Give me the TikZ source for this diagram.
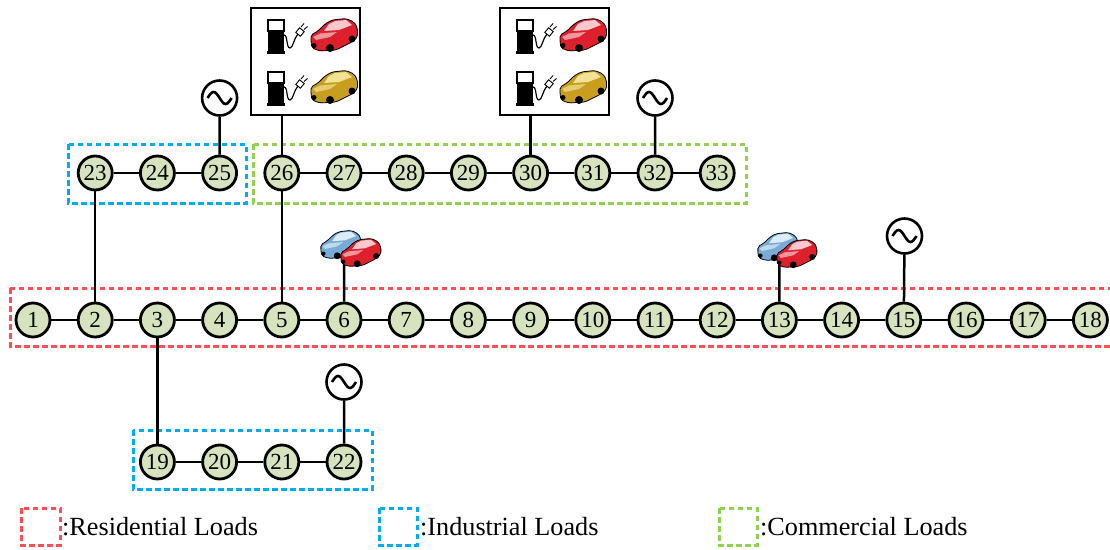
\documentclass[tikz,border=0pt]{standalone}
\usepackage{fontspec}
\setmainfont{Liberation Serif}
\definecolor{busfill}{RGB}{215,227,190}
\definecolor{zonered}{RGB}{250,80,85}
\definecolor{zoneblue}{RGB}{0,174,239}
\definecolor{zonegreen}{RGB}{146,208,80}
\definecolor{carred}{RGB}{222,32,44}
\definecolor{carredlt}{RGB}{250,200,205}
\definecolor{cargold}{RGB}{200,158,30}
\definecolor{cargoldlt}{RGB}{242,226,150}
\definecolor{carblue}{RGB}{120,172,215}
\definecolor{carbluelt}{RGB}{218,236,250}
\tikzset{
  pics/car/.style 2 args={code={
    \draw[line width=0.8pt,fill=#1,rounded corners=2pt]
      (1,24) -- (1,17) -- (8,13) -- (15,6) -- (22,2) -- (36,0.5) -- (44,4)
      -- (47.5,10) -- (47.5,19) -- (42,24) -- (26,32) -- (10,33) -- (2,30) -- cycle;
    \fill[#2] (14,13) -- (19,6) -- (25,3) -- (36,2) -- (42,7) -- (29,12) -- cycle;
    \fill[#2!70!#1] (3,19) -- (10,15.5) -- (27,14) -- (20,19) -- (6,22) -- cycle;
    \fill[black] (20,30) circle[radius=4];
    \fill[black] (42,21) circle[radius=3.5];
    \fill[black] (4,27.5) circle[radius=2.5];
  }},
  pics/pump/.style={code={
    \fill[black] (0,11) rectangle (16,32);
    \draw[line width=1.4pt,fill=white] (0,0) rectangle (16,11);
    \fill[black] (-1,31) rectangle (17,34);
    \draw[line width=1.2pt] (16,15) .. controls (20,15) and (18,28) .. (22,28)
      .. controls (25,28) and (26,18) .. (30,14);
    \draw[line width=0.9pt,fill=white,rotate around={-40:(32,12)}] (29,9) rectangle (35,15);
    \draw[line width=0.9pt] (33,7) -- (36,3.5) (36,9.5) -- (39.5,6.5);
  }}
}
\begin{document}
\begin{tikzpicture}[x=1pt,y=-1pt,
  bus/.style={circle,draw,line width=2.8pt,fill=busfill,minimum size=34pt,inner sep=0pt,
    font=\fontsize{23}{23}\selectfont},
  gen/.style={circle,draw,line width=2.6pt,fill=white,minimum size=35pt,inner sep=0pt},
  wire/.style={line width=2.5pt},
  zone/.style={line width=3pt,dash pattern=on 5.5pt off 3.5pt},
  station/.style={draw,line width=1.8pt,minimum width=109pt,minimum height=107pt,inner sep=0pt},
  legend/.style={anchor=base west,inner sep=0pt,font=\fontsize{26.2}{26.2}\selectfont}
]
\useasboundingbox (0,0) rectangle (1110,549);

% load zones
\draw[zone,zonered]   (10,288) rectangle (1120,346);
\draw[zone,zoneblue]  (68,144) rectangle (246,203);
\draw[zone,zonegreen] (253,144) rectangle (746,203);
\draw[zone,zoneblue]  (133,430) rectangle (372,489);

% buses
\foreach \i in {1,...,18} {
  \node[bus] (n\i) at ({33+(\i-1)*62.2},320) {\i};
}
\foreach \i [evaluate=\i as \k using int(\i-22)] in {23,...,33} {
  \node[bus] (n\i) at ({33+(\k)*62.2},173) {\i};
}
\foreach \i [evaluate=\i as \k using int(\i-17)] in {19,...,22} {
  \node[bus] (n\i) at ({33+(\k)*62.2},462) {\i};
}

% generators
\node[gen] (g25) at (219.6,98) {};
\node[gen] (g32) at (655,98) {};
\node[gen] (g15) at (904.5,236) {};
\node[gen] (g22) at (344,382) {};
\foreach \g in {g25,g32,g15,g22} {
  \draw[line width=2.6pt] ([xshift=-12pt]\g.center) sin ++(6,-6) cos ++(6,6)
    sin ++(6,6) cos ++(6,-6);
}

% charging stations
\node[station] (cs1) at (305.5,61.5) {};
\node[station] (cs2) at (554.5,61.5) {};
\pic at (268,20) {pump};
\pic at (310,18) {car={carred}{carredlt}};
\pic at (268,72) {pump};
\pic at (310,70) {car={cargold}{cargoldlt}};
\pic at (517,20) {pump};
\pic at (559,18) {car={carred}{carredlt}};
\pic at (517,72) {pump};
\pic at (559,70) {car={cargold}{cargoldlt}};

% feeders
\foreach \a/\b in {1/2,2/3,3/4,4/5,5/6,6/7,7/8,8/9,9/10,10/11,11/12,12/13,13/14,14/15,15/16,16/17,17/18,
                   23/24,24/25,26/27,27/28,28/29,29/30,30/31,31/32,32/33,19/20,20/21,21/22,2/23,3/19,5/26} {
  \draw[wire] (n\a) -- (n\b);
}
\draw[wire] (n25) -- (g25);
\draw[wire] (n32) -- (g32);
\draw[wire] (n15) -- (g15);
\draw[wire] (n22) -- (g22);
\draw[wire] (n26) -- (n26 |- cs1.south);
\draw[wire] (n30) -- (n30 |- cs2.south);

% EV loads on buses 6 and 13
\coordinate (ev6) at (344,262);
\coordinate (ev13) at (779.4,262);
\draw[wire] (n6) -- (ev6);
\draw[wire] (n13) -- (ev13);
\pic[scale=0.86] at (320,230) {car={carblue}{carbluelt}};
\pic[scale=0.86] at (340,238) {car={carred}{carredlt}};
\pic[scale=0.86] at (757,232) {car={carblue}{carbluelt}};
\pic[scale=0.86] at (776,239) {car={carred}{carredlt}};

% legend
\draw[zone,zonered]   (21,508) rectangle (60,545);
\draw[zone,zoneblue]  (379,508) rectangle (417,545);
\draw[zone,zonegreen] (719,508) rectangle (757,545);
\node[legend] (l1) at (62,535) {:Residential Loads};
\node[legend] (l2) at (420,535) {:Industrial Loads};
\node[legend] (l3) at (760,535) {:Commercial Loads};
\end{tikzpicture}
\end{document}
